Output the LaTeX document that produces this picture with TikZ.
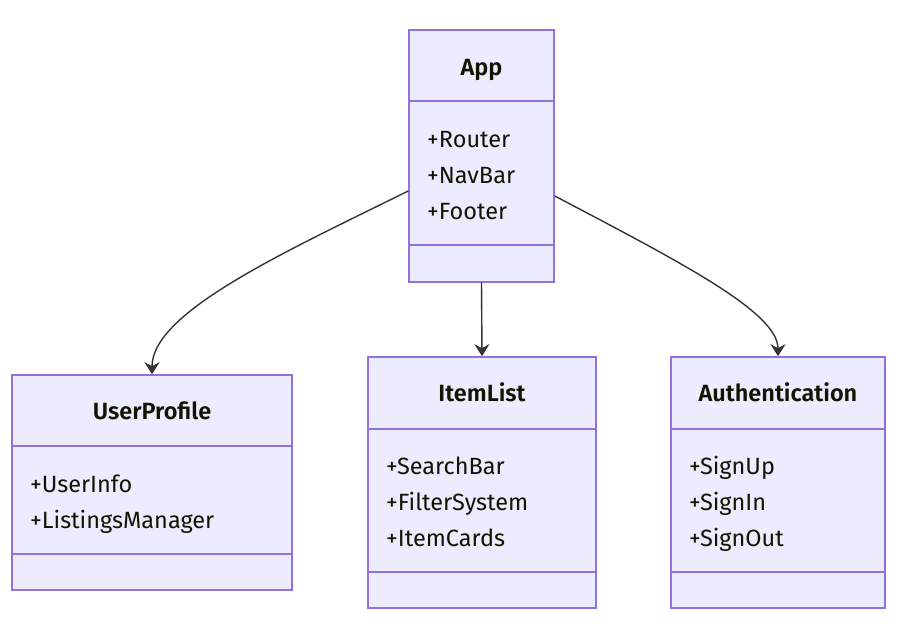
\documentclass[tikz,border=0pt]{standalone}
\usepackage{fontspec}
\setmainfont{Fira Sans}[BoldFont={Fira Sans SemiBold}]
\usetikzlibrary{arrows.meta}
\definecolor{boxfill}{HTML}{ECECFF}
\definecolor{boxline}{HTML}{9370DB}
\definecolor{edge}{HTML}{333333}
\definecolor{txt}{HTML}{131300}
\tikzset{
  classbox/.style={draw=boxline, fill=boxfill, line width=1.6pt, rectangle, inner sep=0pt},
  divider/.style={draw=boxline, line width=1.6pt},
  title/.style={font=\fontsize{23.5}{28}\selectfont\bfseries, text=txt, inner sep=0pt, text height=17pt, text depth=5pt, yshift=-2pt},
  member/.style={font=\fontsize{23.5}{28}\selectfont, text=txt, inner sep=0pt, anchor=west, text height=17pt, text depth=5pt, yshift=-2pt},
  conn/.style={draw=edge, line width=1.4pt, -{Stealth[length=12pt,width=15pt,inset=4pt]}}
}
\begin{document}
\begin{tikzpicture}[x=1pt,y=-1pt]
\useasboundingbox (0,0) rectangle (910,634);
% App
\node[classbox, minimum width=145pt, minimum height=252pt] (app) at (481.5,156) {};
\draw[divider] (409,101) -- (554,101);
\draw[divider] (409,245) -- (554,245);
\node[title] (appt) at (481.5,68) {App};
\node[member] (appm1) at (427,139) {+Router};
\node[member] (appm2) at (427,175) {+NavBar};
\node[member] (appm3) at (427,211) {+Footer};
% UserProfile
\node[classbox, minimum width=280pt, minimum height=215pt] (up) at (152,482.5) {};
\draw[divider] (12,446) -- (292,446);
\draw[divider] (12,554) -- (292,554);
\node[title] (upt) at (152,411) {UserProfile};
\node[member] (upm1) at (30,484) {+UserInfo};
\node[member] (upm2) at (30,520) {+ListingsManager};
% ItemList
\node[classbox, minimum width=228pt, minimum height=251pt] (il) at (482,482.5) {};
\draw[divider] (368,429) -- (596,429);
\draw[divider] (368,572) -- (596,572);
\node[title] (ilt) at (482,393) {ItemList};
\node[member] (ilm1) at (386,466) {+SearchBar};
\node[member] (ilm2) at (386,502) {+FilterSystem};
\node[member] (ilm3) at (386,538) {+ItemCards};
% Authentication
\node[classbox, minimum width=214pt, minimum height=251pt] (au) at (778,482.5) {};
\draw[divider] (671,429) -- (885,429);
\draw[divider] (671,572) -- (885,572);
\node[title] (aut) at (778,393) {Authentication};
\node[member] (aum1) at (689,466) {+SignUp};
\node[member] (aum2) at (689,502) {+SignIn};
\node[member] (aum3) at (689,538) {+SignOut};
% connectors
\draw[conn] ([yshift=-35pt]app.west) .. controls (285,252) and (152,312) .. (up.north);
\draw[conn] (app.south) -- (il.north);
\draw[conn] ([yshift=-40pt]app.east) .. controls (680,262) and (778,312) .. (au.north);
\end{tikzpicture}
\end{document}
